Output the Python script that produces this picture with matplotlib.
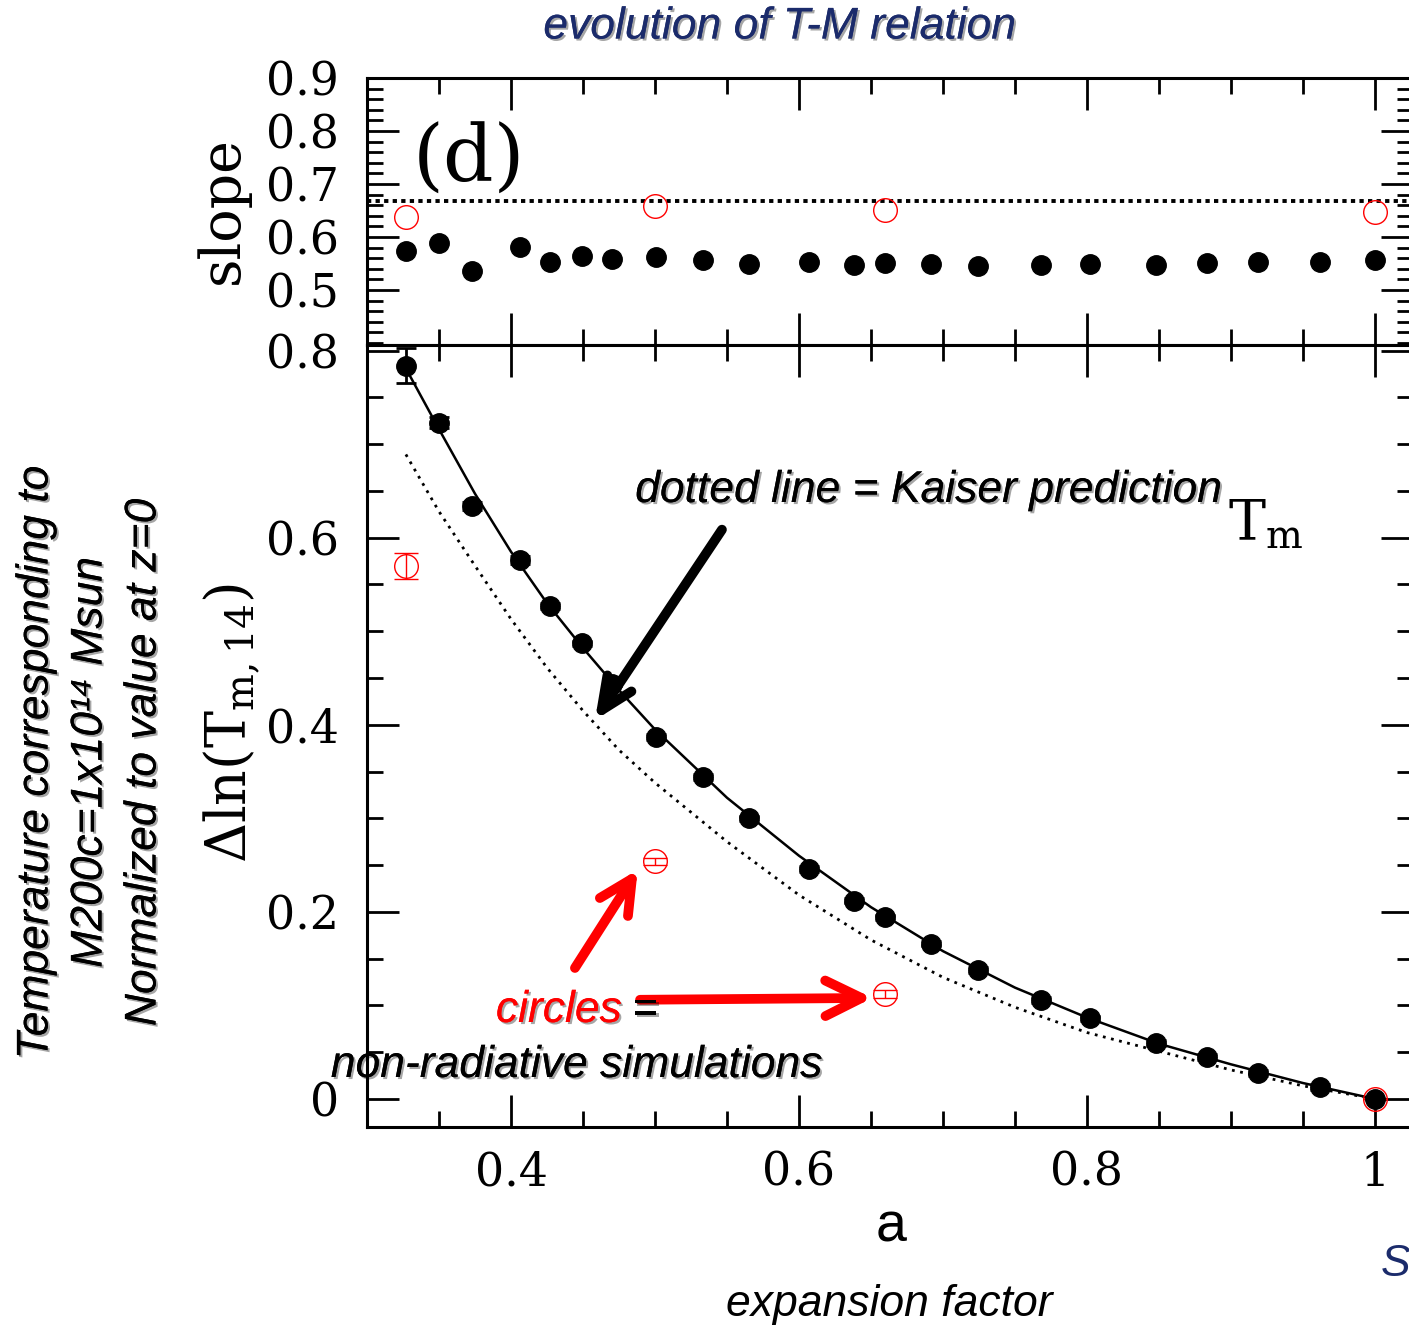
import matplotlib
matplotlib.use("Agg")
import matplotlib.pyplot as plt
import matplotlib.patheffects as pe
from matplotlib.ticker import MultipleLocator, FixedLocator, FuncFormatter

# radiative runs (filled black points)
a_rad = [0.327, 0.350, 0.373, 0.406, 0.427, 0.449, 0.470, 0.501, 0.533, 0.565, 0.607,
         0.638, 0.660, 0.692, 0.724, 0.768, 0.802, 0.848, 0.883, 0.919, 0.962, 1.000]
slope_rad = [0.574, 0.589, 0.536, 0.581, 0.553, 0.564, 0.558, 0.562, 0.557, 0.549, 0.553,
             0.547, 0.551, 0.548, 0.545, 0.547, 0.549, 0.547, 0.550, 0.552, 0.553, 0.556]
dT_rad = [0.784, 0.723, 0.634, 0.576, 0.527, 0.487, 0.444, 0.387, 0.344, 0.300, 0.246,
          0.212, 0.194, 0.166, 0.138, 0.106, 0.086, 0.060, 0.045, 0.028, 0.013, 0.000]
dT_rad_err = [0.019, 0.006, 0.004, 0.004, 0.003, 0.003, 0.003, 0.003, 0.003, 0.003, 0.003,
              0.003, 0.003, 0.003, 0.003, 0.003, 0.003, 0.003, 0.003, 0.003, 0.003, 0.000]

# non-radiative runs (red open circles)
a_nonrad = [0.327, 0.500, 0.660, 1.000]
slope_nonrad = [0.638, 0.658, 0.650, 0.647]
dT_nonrad = [0.570, 0.254, 0.112, 0.000]
dT_nonrad_err = [0.014, 0.004, 0.004, 0.000]

# solid fit line
a_fit = [0.327, 0.350, 0.375, 0.400, 0.425, 0.450, 0.475, 0.500, 0.550, 0.600, 0.650,
         0.700, 0.750, 0.800, 0.850, 0.900, 0.950, 1.000]
dT_fit = [0.781, 0.716, 0.647, 0.585, 0.530, 0.482, 0.437, 0.395, 0.322, 0.260, 0.205,
          0.158, 0.119, 0.087, 0.059, 0.037, 0.017, 0.000]

# Kaiser (self-similar) prediction, dotted
a_kaiser = [0.327, 0.350, 0.375, 0.400, 0.425, 0.450, 0.475, 0.500, 0.550, 0.600,
            0.650, 0.700, 0.750, 0.800, 0.850, 0.900, 0.950, 1.000]
dT_kaiser = [0.689, 0.628, 0.570, 0.513, 0.461, 0.415, 0.373, 0.338, 0.275, 0.218,
             0.170, 0.130, 0.098, 0.071, 0.051, 0.031, 0.014, 0.000]
kaiser_slope = 0.667

plt.rcParams['font.family'] = ['DejaVu Serif']
plt.rcParams['mathtext.fontset'] = 'dejavuserif'
sans = ['Liberation Sans', 'DejaVu Sans']
navy = '#1b2b6b'

W, H = 1409, 1327
fig = plt.figure(figsize=(W / 100, H / 100), dpi=100)


def px_axes(x0, y0, x1, y1):
    return fig.add_axes([x0 / W, 1 - y1 / H, (x1 - x0) / W, (y1 - y0) / H])


def fig_text(x, y, s, **kw):
    return fig.text(x / W, 1 - y / H, s, **kw)


ax_top = px_axes(367, 78, 1413, 345)
ax_bot = px_axes(367, 345, 1413, 1127)

for ax in (ax_top, ax_bot):
    for sp in ax.spines.values():
        sp.set_linewidth(2.2)
    ax.set_xlim(0.3, 1.0264)
    ax.xaxis.set_major_locator(MultipleLocator(0.2))
    ax.xaxis.set_minor_locator(MultipleLocator(0.05))
    ax.tick_params(which='both', direction='in', top=True, right=True, width=2,
                   labelsize=33)
    ax.tick_params(which='major', length=23)
    ax.tick_params(which='minor', length=11.5)
    ax.tick_params(axis='y', pad=20)
    ax.tick_params(axis='x', pad=17)
    ax.xaxis.set_major_formatter(FuncFormatter(lambda v, p: f"{v:g}"))
    ax.yaxis.set_major_formatter(FuncFormatter(lambda v, p: f"{v:g}"))

# top panel: slope
ax_top.set_ylim(0.396, 0.9)
ax_top.yaxis.set_major_locator(FixedLocator([0.5, 0.6, 0.7, 0.8, 0.9]))
ax_top.yaxis.set_minor_locator(MultipleLocator(0.02))
ax_top.tick_params(labelbottom=False)
ax_top.axhline(kaiser_slope, color='k', lw=2.8, ls=(0, (1.1, 1.1)))
ax_top.plot(a_rad, slope_rad, 'o', color='k', ms=14)
ax_top.plot(a_nonrad, slope_nonrad, 'o', mfc='none', mec='red', ms=17, mew=1)

# bottom panel: delta ln T
ax_bot.set_ylim(-0.03, 0.806)
ax_bot.yaxis.set_major_locator(MultipleLocator(0.2))
ax_bot.yaxis.set_minor_locator(MultipleLocator(0.05))
ax_bot.plot(a_kaiser, dT_kaiser, color='k', lw=2.0, ls=(0, (1, 2.0)))
ax_bot.plot(a_fit, dT_fit, color='k', lw=1.8)
ax_bot.errorbar(a_rad, dT_rad, yerr=dT_rad_err, fmt='o', color='k', ms=14,
                capsize=7.5, elinewidth=2, capthick=2)
ax_bot.errorbar(a_nonrad, dT_nonrad, yerr=dT_nonrad_err, fmt='o', mfc='none',
                mec='red', ecolor='red', ms=17, mew=1, capsize=8.5,
                elinewidth=1, capthick=1)

# arrows
ax_bot.annotate('', xy=(0.4583, 0.405), xytext=(0.5465, 0.6086),
                arrowprops=dict(arrowstyle='->,head_length=0.58,head_width=0.26',
                                lw=7, color='k', mutation_scale=40,
                                shrinkA=0, shrinkB=0, capstyle='round'))
ax_bot.annotate('', xy=(0.488, 0.245), xytext=(0.4444, 0.140),
                arrowprops=dict(arrowstyle='->,head_length=0.6,head_width=0.3',
                                lw=7, color='red', mutation_scale=40,
                                shrinkA=0, shrinkB=0, capstyle='round'))
ax_bot.annotate('', xy=(0.651, 0.108), xytext=(0.4896, 0.106),
                arrowprops=dict(arrowstyle='->,head_length=0.65,head_width=0.32',
                                lw=7, color='red', mutation_scale=40,
                                shrinkA=0, shrinkB=0, capstyle='round'))

shadow = [pe.withSimplePatchShadow(offset=(1.5, -1.5), shadow_rgbFace='k', alpha=0.35),
          pe.Normal()]

# texts
fig_text(780, 27, 'evolution of T-M relation', ha='center', va='center', fontsize=32,
         style='italic', color=navy, family=sans, path_effects=shadow)
fig_text(413, 160, '(d)', ha='left', va='center', fontsize=57)
fig_text(223, 210, 'slope', ha='center', va='center', rotation=90, fontsize=40)
fig_text(232, 723, r'$\Delta\ln(\mathrm{T}_{\mathrm{m,14}})$', ha='center', va='center',
         rotation=90, fontsize=40)
fig_text(891, 1228, 'a', ha='center', va='center', fontsize=40, family=sans)
fig_text(1228, 540, r'$\mathrm{T}_{\mathrm{m}}$', ha='left', va='baseline', fontsize=40)

fig_text(929, 502, 'dotted line = Kaiser prediction', ha='center', va='baseline',
         fontsize=32, style='italic', family=sans, path_effects=shadow)
fig_text(622, 1022, 'circles', ha='right', va='baseline', fontsize=32, style='italic',
         color='red', family=sans, path_effects=shadow)
fig_text(632, 1022, '=', ha='left', va='baseline', fontsize=32, style='italic',
         family=sans, path_effects=shadow)
fig_text(577, 1077, 'non-radiative simulations', ha='center', va='baseline', fontsize=32,
         style='italic', family=sans, path_effects=shadow)
fig_text(889, 1316, 'expansion factor', ha='center', va='baseline', fontsize=32,
         style='italic', family=sans)
fig_text(1381, 1265, 'S', ha='left', va='center', fontsize=32, style='italic',
         color=navy, family=sans)

fig_text(36, 762, 'Temperature corresponding to', ha='center', va='center', rotation=90,
         fontsize=32, style='italic', family=sans, path_effects=shadow)
fig_text(90, 762, 'M200c=1x10\u00b9\u2074 Msun', ha='center', va='center', rotation=90,
         fontsize=32, style='italic', family=sans, path_effects=shadow)
fig_text(144, 762, 'Normalized to value at z=0', ha='center', va='center', rotation=90,
         fontsize=32, style='italic', family=sans, path_effects=shadow)

fig.savefig('out.png', dpi=100)
